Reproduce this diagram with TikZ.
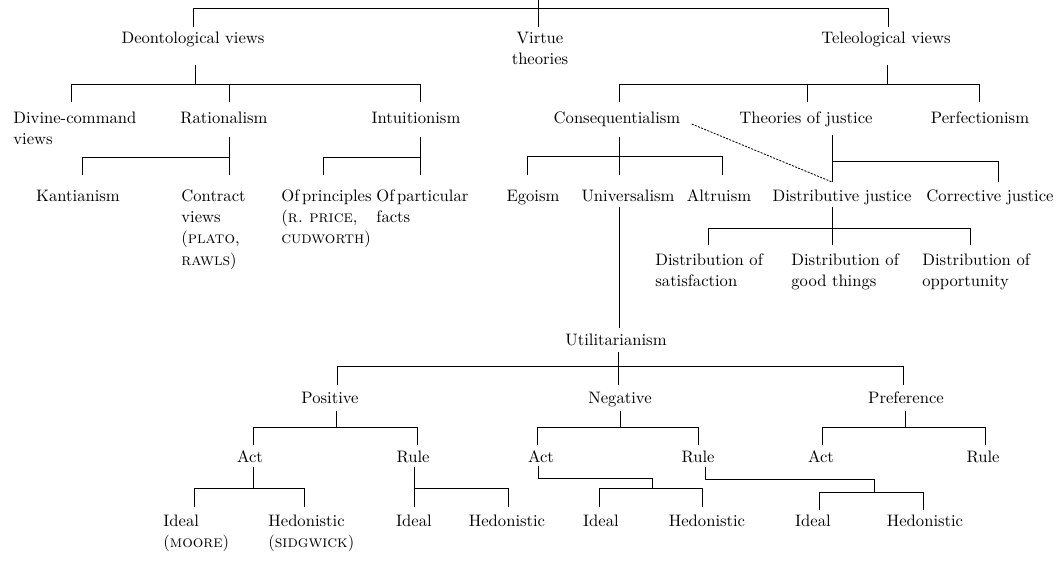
\documentclass[tikz,border=0pt]{standalone}
\usepackage{tikz}
\usetikzlibrary{calc}

\newcommand{\stackl}[1]{\begin{tabular}[t]{@{}l@{}}#1\end{tabular}}
\newcommand{\stackc}[1]{\begin{tabular}[t]{@{}c@{}}#1\end{tabular}}

\begin{document}
\begin{tikzpicture}[x=0.59pt,y=-0.59pt,
		every node/.style={inner sep=0pt,font=\fontsize{9.8}{12.6}\selectfont},
		lab/.style={anchor=base},
		lst/.style={anchor=base west},
		every path/.style={line width=0.5pt}]
	\useasboundingbox (0,0) rectangle (1064,567);
	\coordinate (root) at (538,0);
	\path (193,43) node[lab] (deon) {Deontological views}
		(540,43) node[lab] (virtue) {\stackc{Virtue\\theories}}
		(886,43) node[lab] (teleo) {Teleological views}
		(13,123) node[lst] (divine) {\stackl{Divine-command\\views}}
		(224,123) node[lab] (rat) {Rationalism}
		(416,123) node[lab] (intuit) {Intuitionism}
		(617,123) node[lab] (conseq) {Consequentialism}
		(806,123) node[lab] (theories) {Theories of justice}
		(980,123) node[lab] (perfect) {Perfectionism}
		(78,201) node[lab] (kant) {Kantianism}
		(181,201) node[lst] (contract) {\stackl{Contract\\views\\(\textsc{plato},\\\textsc{rawls})}}
		(281,201) node[lst] (principles) {\stackl{Of\,principles\\(\textsc{r.\ price},\\\textsc{cudworth})}}
		(376,201) node[lst] (particular) {\stackl{Of\,particular\\facts}}
		(533,201) node[lab] (egoism) {Egoism}
		(628,201) node[lab] (univ) {Universalism}
		(719,201) node[lab] (altru) {Altruism}
		(842,201) node[lab] (distrib) {Distributive justice}
		(990,201) node[lab] (correct) {Corrective justice}
		(655,265) node[lst] (dsat) {\stackl{Distribution of\\satisfaction}}
		(791,265) node[lst] (dgood) {\stackl{Distribution of\\good things}}
		(922,265) node[lst] (dopp) {\stackl{Distribution of\\opportunity}}
		(616,345) node[lab] (util) {Utilitarianism}
		(330,403) node[lab] (pos) {Positive}
		(620,403) node[lab] (neg) {Negative}
		(906,403) node[lab] (pref) {Preference}
		(250,462) node[lab] (pact) {Act}
		(413,462) node[lab] (prule) {Rule}
		(541,462) node[lab] (nact) {Act}
		(698,462) node[lab] (nrule) {Rule}
		(821,462) node[lab] (fact) {Act}
		(983,462) node[lab] (frule) {Rule}
		(163,526) node[lst] (pideal) {\stackl{Ideal\\(\textsc{moore})}}
		(268,526) node[lst] (phedon) {\stackl{Hedonistic\\(\textsc{sidgwick})}}
		(414,526) node[lab] (prideal) {Ideal}
		(507,526) node[lab] (prhedon) {Hedonistic}
		(601,526) node[lab] (nideal) {Ideal}
		(707,526) node[lab] (nhedon) {Hedonistic}
		(813,526) node[lab] (rideal) {Ideal}
		(925,526) node[lab] (rhedon) {Hedonistic};
	% top
	\draw (root) -- ($(virtue.base)+(-2,-16)$);
	\draw ($(deon.base)+(0,-16)$) -- ++(0,-19) -| ($(teleo.base)+(2,-16)$);
	% deontological side
	\draw ($(deon.base)+(2,22)$) -- ++(0,19);
	\draw ($(divine.base west)+(58,-21)$) |- ($(intuit.base)+(4,-39)$) -- ++(0,18);
	\draw ($(rat.base)+(5,-21)$) -- ++(0,-18);
	\draw ($(rat.base)+(5,14)$) -- ($(contract.base west)+(48,-26)$);
	\draw ($(rat.base)+(5,34)$) -| ($(kant.base)+(4,-26)$);
	\draw ($(intuit.base)+(4,14)$) -- ($(particular.base west)+(44,-26)$);
	\draw ($(intuit.base)+(4,34)$) -| ($(principles.base west)+(42,-26)$);
	% teleological side
	\draw ($(teleo.base)+(1,22)$) -- ++(0,19);
	\draw ($(conseq.base)+(2,-21)$) |- ($(perfect.base)+(-1,-39)$) -- ++(0,18);
	\draw ($(theories.base)+(1,-21)$) -- ++(0,-18);
	\draw ($(conseq.base)+(2,14)$) -- ($(univ.base)+(-9,-26)$);
	\draw ($(egoism.base)+(-6,-26)$) |- ($(altru.base)+(3,-45)$) -- ++(0,19);
	\draw ($(theories.base)+(26,12)$) -- ($(distrib.base)+(-10,-19)$);
	\draw ($(theories.base)+(26,38)$) -| ($(correct.base)+(8,-19)$);
	\draw[dash pattern=on 1.2pt off 0.8pt] ($(conseq.base east)+(11,1)$) -- ($(distrib.base)+(-10,-19)$);
	\draw ($(distrib.base)+(-10,6)$) -- ($(dgood.base west)+(41,-20)$);
	\draw ($(dsat.base west)+(53,-20)$) |- ($(dopp.base west)+(48,-37)$) -- ++(0,17);
	% utilitarianism
	\draw ($(univ.base)+(-9,6)$) -- ($(util.base)+(3,-17)$);
	\draw ($(util.base)+(2,7)$) -- ($(neg.base)+(-2,-18)$);
	\draw ($(pos.base)+(7,-18)$) |- ($(pref.base)+(-3,-37)$) -- ++(0,19);
	\draw ($(pos.base)+(6,8)$) -- ++(0,16);
	\draw ($(pact.base)+(3,-17)$) |- ($(prule.base)+(4,-35)$) -- ++(0,18);
	\draw ($(neg.base)+(0,8)$) -- ++(0,16);
	\draw ($(nact.base)+(-4,-17)$) |- ($(nrule.base)+(0,-35)$) -- ++(0,18);
	\draw ($(pref.base)+(-1,8)$) -- ++(0,16);
	\draw ($(fact.base)+(1,-17)$) |- ($(frule.base)+(2,-35)$) -- ++(0,18);
	% act and rule
	\draw ($(pact.base)+(3,5)$) -- ++(0,21);
	\draw ($(pideal.base west)+(31,-19)$) |- ($(phedon.base west)+(36,-38)$) -- ++(0,19);
	\draw ($(prule.base)+(1,5)$) -- ($(prideal.base)+(0,-19)$);
	\draw ($(prule.base)+(1,26)$) -| ($(prhedon.base)+(1,-19)$);
	\draw ($(nact.base)+(-3,4)$) |- ($(nideal.base)+(51,-48)$) -- ++(0,10);
	\draw ($(nideal.base)+(-2,-19)$) |- ($(nhedon.base)+(-5,-38)$) -- ++(0,19);
	\draw ($(nrule.base)+(7,5)$) |- ($(rideal.base)+(61,-47)$) -- ++(0,13);
	\draw ($(rideal.base)+(6,-16)$) |- ($(rhedon.base)+(-2,-34)$) -- ++(0,18);
\end{tikzpicture}
\end{document}
